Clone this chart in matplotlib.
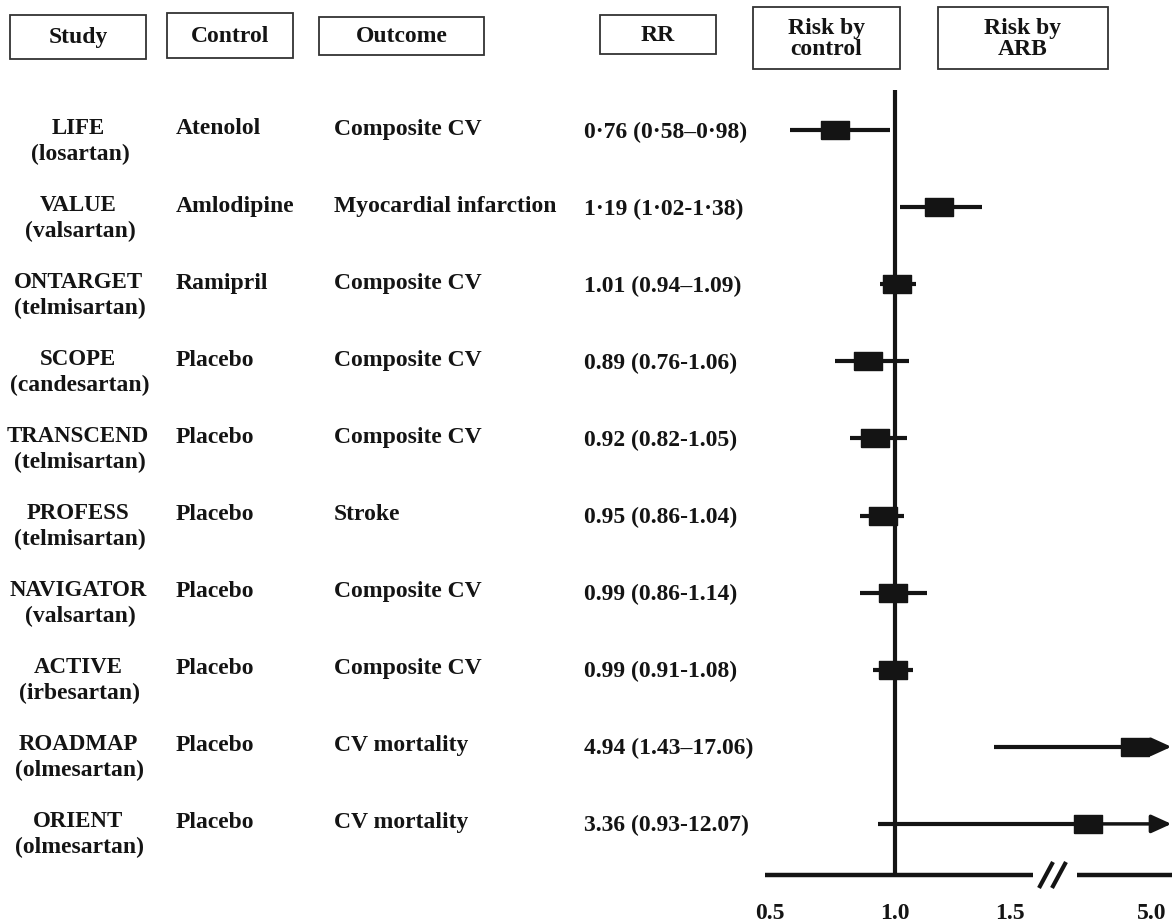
import numpy as np
import matplotlib
matplotlib.use("Agg")
import matplotlib.pyplot as plt
from matplotlib.patches import Rectangle

# ------------------------------------------------------------
# data
# ------------------------------------------------------------
studies  = ["LIFE", "VALUE", "ONTARGET", "SCOPE", "TRANSCEND",
            "PROFESS", "NAVIGATOR", "ACTIVE", "ROADMAP", "ORIENT"]
drugs    = ["(losartan)", "(valsartan)", "(telmisartan)", "(candesartan)",
            "(telmisartan)", "(telmisartan)", "(valsartan)", "(irbesartan)",
            "(olmesartan)", "(olmesartan)"]
controls = ["Atenolol", "Amlodipine", "Ramipril", "Placebo", "Placebo",
            "Placebo", "Placebo", "Placebo", "Placebo", "Placebo"]
outcomes = ["Composite CV", "Myocardial infarction", "Composite CV",
            "Composite CV", "Composite CV", "Stroke", "Composite CV",
            "Composite CV", "CV mortality", "CV mortality"]

rr    = [0.76, 1.19, 1.01, 0.89, 0.92, 0.95, 0.99, 0.99, 4.94, 3.36]
ci_lo = [0.58, 1.02, 0.94, 0.76, 0.82, 0.86, 0.86, 0.91, 1.43, 0.93]
ci_hi = [0.98, 1.38, 1.09, 1.06, 1.05, 1.04, 1.14, 1.08, 17.06, 12.07]

rr_text = ["0·76 (0·58–0·98)", "1·19 (1·02-1·38)", "1.01 (0.94–1.09)",
           "0.89 (0.76-1.06)", "0.92 (0.82-1.05)", "0.95 (0.86-1.04)",
           "0.99 (0.86-1.14)", "0.99 (0.91-1.08)", "4.94 (1.43–17.06)",
           "3.36 (0.93-12.07)"]

tick_vals   = [0.5, 1.0, 1.5, 5.0]
tick_labels = ["0.5", "1.0", "1.5", "5.0"]

# ------------------------------------------------------------
# layout (pixels of the 1172 x 923 canvas)
# ------------------------------------------------------------
W, H = 1172, 923
INK  = "#141414"
FONT = dict(family="Liberation Serif", fontweight="bold", fontsize=17, color=INK)

row_y = 130 + np.arange(len(studies)) * 77.1
axis_y = 875

# broken x axis: piecewise linear value -> pixel
knot_v  = [0.0, 0.5, 1.0, 1.5, 1.6, 3.0, 5.0, 20.0]
knot_px = [645, 770, 895, 1010, 1033, 1077, 1137, 1587]

def fwd(v):
    return np.interp(v, knot_v, knot_px)

def inv(p):
    return np.interp(p, knot_px, knot_v)

fig = plt.figure(figsize=(W / 100, H / 100), dpi=100)
fig.patch.set_facecolor("white")

# background axes for the table part, pixel coordinates
bg = fig.add_axes([0, 0, 1, 1])
bg.set_xlim(0, W)
bg.set_ylim(H, 0)
bg.axis("off")

# header boxes: (x0, y0, x1, y1, label)
headers = [
    (10, 15, 146, 59, "Study"),
    (167, 13, 293, 58, "Control"),
    (319, 17, 484, 55, "Outcome"),
    (600, 15, 716, 54, "RR"),
    (753, 7, 900, 69, "Risk by\ncontrol"),
    (938, 7, 1108, 69, "Risk by\nARB"),
]
for x0, y0, x1, y1, lab in headers:
    bg.add_patch(Rectangle((x0, y0), x1 - x0, y1 - y0, fill=False,
                           edgecolor="#333333", linewidth=1.3))
    bg.text((x0 + x1) / 2, (y0 + y1) / 2 + 1, lab, ha="center", va="center",
            linespacing=1.05, **FONT)

# table columns
for y, s, d, c, o, t in zip(row_y, studies, drugs, controls, outcomes, rr_text):
    bg.text(78, y - 2, s, ha="center", va="center",
            **{**FONT, "fontsize": 16.5})
    bg.text(80, y + 24, d, ha="center", va="center", **FONT)
    bg.text(176, y - 1, c, ha="left", va="center", **FONT)
    bg.text(334, y - 1, o, ha="left", va="center", **FONT)
    bg.text(584, y + 2, t, ha="left", va="center", **FONT)

# "//" break mark
for dx in (0, 13):
    bg.plot([1039 + dx, 1053 + dx], [888, 862], color=INK, lw=3,
            solid_capstyle="butt")

# ------------------------------------------------------------
# forest plot
# ------------------------------------------------------------
ax = fig.add_axes([765 / W, 0, (W - 765) / W, 1])
ax.patch.set_alpha(0)
ax.set_xscale("function", functions=(fwd, inv))
ax.set_xlim(inv(765), inv(W))
ax.set_ylim(H, 0)
for sp in ax.spines.values():
    sp.set_visible(False)
ax.spines["bottom"].set_position(("data", axis_y))
ax.yaxis.set_visible(False)

ax.set_xticks(tick_vals)
ax.set_xticklabels(tick_labels, family="Liberation Serif",
                   fontweight="bold", fontsize=17, color=INK)
ax.tick_params(axis="x", length=0, pad=20)
ax.get_xticklabels()[-1].set_ha("left")
ax.minorticks_off()

# reference line and broken axis
x_left, x_right = ax.get_xlim()
ax.vlines(1.0, 90, axis_y, color=INK, lw=3)
ax.hlines(axis_y, x_left, 1.6, color=INK, lw=3.2)
ax.hlines(axis_y, 3.0, x_right, color=INK, lw=3.2)

box = [(-14, -9), (14, -9), (14, 9), (-14, 9), (-14, -9)]
for y, m, lo, hi in zip(row_y, rr, ci_lo, ci_hi):
    if hi > x_right:
        ax.hlines(y, lo, m, color=INK, lw=3)
        ax.annotate("", xy=(x_right - 0.02, y), xytext=(m, y),
                    arrowprops=dict(arrowstyle="-|>,head_length=0.55,head_width=0.25",
                                    color=INK, lw=2.5, mutation_scale=22,
                                    shrinkA=0, shrinkB=0))
    else:
        ax.hlines(y, lo, hi, color=INK, lw=3)
    ax.plot(m, y, marker=box, markersize=20.5, color=INK, linestyle="none")

plt.savefig("out.png", dpi=100, facecolor="white")
plt.close()
